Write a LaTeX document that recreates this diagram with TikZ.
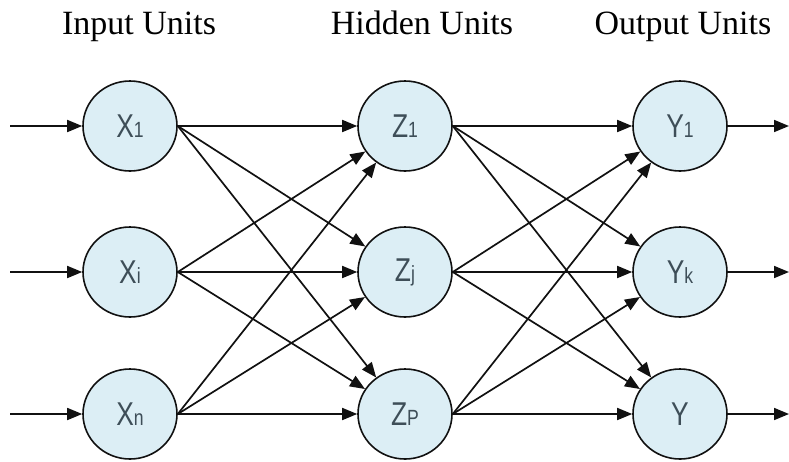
\documentclass[tikz,border=0pt]{standalone}
\usepackage{fontspec}
\setmainfont{Liberation Serif}
\newfontfamily\nodefont[FakeStretch=0.8]{Liberation Sans}
\usetikzlibrary{arrows.meta,shapes.geometric}
\definecolor{unitfill}{HTML}{DCEEF5}
\definecolor{unittext}{HTML}{3E4E58}
\definecolor{edgecol}{HTML}{111111}
\newcommand\unitlab[2]{{\fontsize{33}{33}\selectfont #1}{\fontsize{22}{22}\selectfont #2}}
\begin{document}
\begin{tikzpicture}[x=1pt,y=-1pt,
  unit/.style={ellipse, draw=edgecol, line width=1.6pt, fill=unitfill,
    minimum width=94pt, minimum height=90pt, inner sep=0pt,
    text=unittext, font=\nodefont},
  conn/.style={-{Triangle[length=15pt,width=12pt]}, line width=1.7pt, draw=edgecol},
  head/.style={font=\fontsize{34}{34}\selectfont, anchor=base, inner sep=0pt}]
\useasboundingbox (0,0) rectangle (789,461);
\fill[white] (0,0) rectangle (789,461);
% headers
\node[head] (hin) at (139,34) {Input Units};
\node[head] (hhid) at (422,34) {Hidden Units};
\node[head] (hout) at (683,34) {Output Units};
% units
\node[unit] (x1) at (130,126) {\unitlab{X}{1}};
\node[unit] (xi) at (130,272) {\unitlab{X}{i}};
\node[unit] (xn) at (130,414) {\unitlab{X}{n}};
\node[unit] (z1) at (405,126) {\unitlab{Z}{1}};
\node[unit] (zj) at (405,272) {\unitlab{Z}{j}};
\node[unit] (zp) at (405,414) {\unitlab{Z}{P}};
\node[unit] (y1) at (680,126) {\unitlab{Y}{1}};
\node[unit] (yk) at (680,272) {\unitlab{Y}{k}};
\node[unit] (yy) at (680,414) {\unitlab{Y}{}};
% free ends
\coordinate (in1) at (10,126);
\coordinate (ini) at (10,272);
\coordinate (inn) at (10,414);
\coordinate (out1) at (789,126);
\coordinate (outk) at (789,272);
\coordinate (outy) at (789,414);
% input and output arrows
\draw[conn] (in1) -- (x1);
\draw[conn] (ini) -- (xi);
\draw[conn] (inn) -- (xn);
\draw[conn] (y1) -- (out1);
\draw[conn] (yk) -- (outk);
\draw[conn] (yy) -- (outy);
% layer connections
\foreach \s in {x1,xi,xn}
  \foreach \t in {z1,zj,zp}
    \draw[conn] (\s.east) -- (\t);
\foreach \s in {z1,zj,zp}
  \foreach \t in {y1,yk,yy}
    \draw[conn] (\s.east) -- (\t);
\end{tikzpicture}
\end{document}
